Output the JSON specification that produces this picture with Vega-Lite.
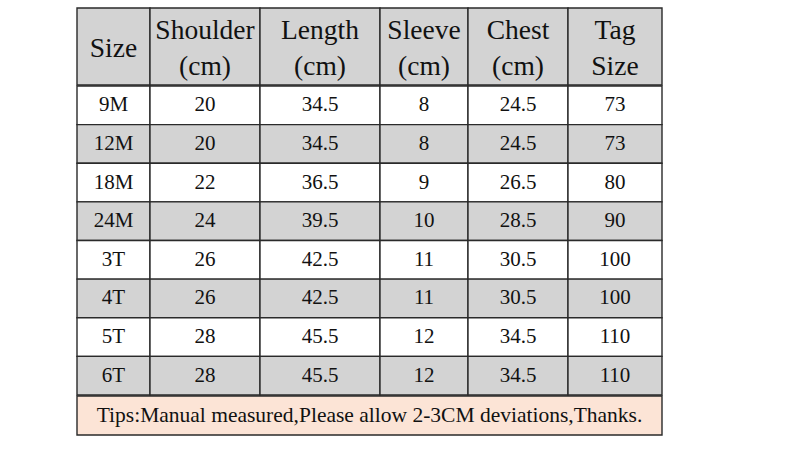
{
  "$schema": "https://vega.github.io/schema/vega-lite/v6.json",
  "padding": {"left": 76, "top": 7, "right": 0, "bottom": 0},
  "background": "#ffffff",
  "spacing": -1.4,
  "config": {"view": {"stroke": null}},
  "datasets": {
    "headers": [
      {"column": "size", "label": "Size"},
      {"column": "shoulder", "label": "Shoulder\n(cm)"},
      {"column": "length", "label": "Length\n(cm)"},
      {"column": "sleeve", "label": "Sleeve\n(cm)"},
      {"column": "chest", "label": "Chest\n(cm)"},
      {"column": "tag", "label": "Tag\nSize"}
    ],
    "sizes": [
      {"size": "9M", "shoulder": 20, "length": 34.5, "sleeve": 8, "chest": 24.5, "tag": 73},
      {"size": "12M", "shoulder": 20, "length": 34.5, "sleeve": 8, "chest": 24.5, "tag": 73},
      {"size": "18M", "shoulder": 22, "length": 36.5, "sleeve": 9, "chest": 26.5, "tag": 80},
      {"size": "24M", "shoulder": 24, "length": 39.5, "sleeve": 10, "chest": 28.5, "tag": 90},
      {"size": "3T", "shoulder": 26, "length": 42.5, "sleeve": 11, "chest": 30.5, "tag": 100},
      {"size": "4T", "shoulder": 26, "length": 42.5, "sleeve": 11, "chest": 30.5, "tag": 100},
      {"size": "5T", "shoulder": 28, "length": 45.5, "sleeve": 12, "chest": 34.5, "tag": 110},
      {"size": "6T", "shoulder": 28, "length": 45.5, "sleeve": 12, "chest": 34.5, "tag": 110}
    ],
    "tips": [
      {"note": "Tips:Manual measured,Please allow 2-3CM deviations,Thanks."}
    ]
  },
  "vconcat": [
    {
      "spacing": 0,
      "bounds": "flush",
      "hconcat": [
        {"width": 73, "height": 77, "data": {"name": "headers"}, "transform": [{"filter": "datum.column === 'size'"}],
         "layer": [
           {"mark": {"type": "rect", "fill": "#d3d3d3", "stroke": "#2a2a2a", "strokeWidth": 1.4}, "encoding": {"x": {"value": 0}, "x2": {"value": "width"}, "y": {"value": 0}, "y2": {"value": "height"}}},
           {"mark": {"type": "text", "font": "Liberation Serif", "fontSize": 27.5, "color": "#111111", "lineBreak": "\n", "lineHeight": 36, "dy": 2}, "encoding": {"text": {"field": "label"}}}
         ]},
        {"width": 110, "height": 77, "data": {"name": "headers"}, "transform": [{"filter": "datum.column === 'shoulder'"}],
         "layer": [
           {"mark": {"type": "rect", "fill": "#d3d3d3", "stroke": "#2a2a2a", "strokeWidth": 1.4}, "encoding": {"x": {"value": 0}, "x2": {"value": "width"}, "y": {"value": 0}, "y2": {"value": "height"}}},
           {"mark": {"type": "text", "font": "Liberation Serif", "fontSize": 27.5, "color": "#111111", "lineBreak": "\n", "lineHeight": 36, "dy": -16}, "encoding": {"text": {"field": "label"}}}
         ]},
        {"width": 120, "height": 77, "data": {"name": "headers"}, "transform": [{"filter": "datum.column === 'length'"}],
         "layer": [
           {"mark": {"type": "rect", "fill": "#d3d3d3", "stroke": "#2a2a2a", "strokeWidth": 1.4}, "encoding": {"x": {"value": 0}, "x2": {"value": "width"}, "y": {"value": 0}, "y2": {"value": "height"}}},
           {"mark": {"type": "text", "font": "Liberation Serif", "fontSize": 27.5, "color": "#111111", "lineBreak": "\n", "lineHeight": 36, "dy": -16}, "encoding": {"text": {"field": "label"}}}
         ]},
        {"width": 88, "height": 77, "data": {"name": "headers"}, "transform": [{"filter": "datum.column === 'sleeve'"}],
         "layer": [
           {"mark": {"type": "rect", "fill": "#d3d3d3", "stroke": "#2a2a2a", "strokeWidth": 1.4}, "encoding": {"x": {"value": 0}, "x2": {"value": "width"}, "y": {"value": 0}, "y2": {"value": "height"}}},
           {"mark": {"type": "text", "font": "Liberation Serif", "fontSize": 27.5, "color": "#111111", "lineBreak": "\n", "lineHeight": 36, "dy": -16}, "encoding": {"text": {"field": "label"}}}
         ]},
        {"width": 100, "height": 77, "data": {"name": "headers"}, "transform": [{"filter": "datum.column === 'chest'"}],
         "layer": [
           {"mark": {"type": "rect", "fill": "#d3d3d3", "stroke": "#2a2a2a", "strokeWidth": 1.4}, "encoding": {"x": {"value": 0}, "x2": {"value": "width"}, "y": {"value": 0}, "y2": {"value": "height"}}},
           {"mark": {"type": "text", "font": "Liberation Serif", "fontSize": 27.5, "color": "#111111", "lineBreak": "\n", "lineHeight": 36, "dy": -16}, "encoding": {"text": {"field": "label"}}}
         ]},
        {"width": 94, "height": 77, "data": {"name": "headers"}, "transform": [{"filter": "datum.column === 'tag'"}],
         "layer": [
           {"mark": {"type": "rect", "fill": "#d3d3d3", "stroke": "#2a2a2a", "strokeWidth": 1.4}, "encoding": {"x": {"value": 0}, "x2": {"value": "width"}, "y": {"value": 0}, "y2": {"value": "height"}}},
           {"mark": {"type": "text", "font": "Liberation Serif", "fontSize": 27.5, "color": "#111111", "lineBreak": "\n", "lineHeight": 36, "dy": -16}, "encoding": {"text": {"field": "label"}}}
         ]}
      ]
    },
    {
      "spacing": 0,
      "bounds": "flush",
      "hconcat": [
        {"width": 73, "height": 309, "data": {"name": "sizes"},
         "layer": [
           {"mark": {"type": "rect", "stroke": "#2a2a2a", "strokeWidth": 1.4},
            "encoding": {"y": {"field": "size", "type": "ordinal", "sort": null, "scale": {"domain": ["9M","12M","18M","24M","3T","4T","5T","6T"], "paddingInner": 0, "paddingOuter": 0}, "axis": null},
              "x": {"value": 0}, "x2": {"value": "width"},
              "fill": {"field": "size", "type": "nominal", "scale": {"domain": ["9M","12M","18M","24M","3T","4T","5T","6T"], "range": ["#ffffff","#d3d3d3","#ffffff","#d3d3d3","#ffffff","#d3d3d3","#ffffff","#d3d3d3"]}, "legend": null}}},
           {"mark": {"type": "text", "font": "Liberation Serif", "fontSize": 21, "color": "#111111"},
            "encoding": {"y": {"field": "size", "type": "ordinal", "sort": null, "scale": {"domain": ["9M","12M","18M","24M","3T","4T","5T","6T"], "paddingInner": 0, "paddingOuter": 0}, "axis": null}, "text": {"field": "size"}}}
         ]},
        {"width": 110, "height": 309, "data": {"name": "sizes"},
         "layer": [
           {"mark": {"type": "rect", "stroke": "#2a2a2a", "strokeWidth": 1.4},
            "encoding": {"y": {"field": "size", "type": "ordinal", "sort": null, "scale": {"domain": ["9M","12M","18M","24M","3T","4T","5T","6T"], "paddingInner": 0, "paddingOuter": 0}, "axis": null},
              "x": {"value": 0}, "x2": {"value": "width"},
              "fill": {"field": "size", "type": "nominal", "scale": {"domain": ["9M","12M","18M","24M","3T","4T","5T","6T"], "range": ["#ffffff","#d3d3d3","#ffffff","#d3d3d3","#ffffff","#d3d3d3","#ffffff","#d3d3d3"]}, "legend": null}}},
           {"mark": {"type": "text", "font": "Liberation Serif", "fontSize": 21, "color": "#111111"},
            "encoding": {"y": {"field": "size", "type": "ordinal", "sort": null, "scale": {"domain": ["9M","12M","18M","24M","3T","4T","5T","6T"], "paddingInner": 0, "paddingOuter": 0}, "axis": null}, "text": {"field": "shoulder"}}}
         ]},
        {"width": 120, "height": 309, "data": {"name": "sizes"},
         "layer": [
           {"mark": {"type": "rect", "stroke": "#2a2a2a", "strokeWidth": 1.4},
            "encoding": {"y": {"field": "size", "type": "ordinal", "sort": null, "scale": {"domain": ["9M","12M","18M","24M","3T","4T","5T","6T"], "paddingInner": 0, "paddingOuter": 0}, "axis": null},
              "x": {"value": 0}, "x2": {"value": "width"},
              "fill": {"field": "size", "type": "nominal", "scale": {"domain": ["9M","12M","18M","24M","3T","4T","5T","6T"], "range": ["#ffffff","#d3d3d3","#ffffff","#d3d3d3","#ffffff","#d3d3d3","#ffffff","#d3d3d3"]}, "legend": null}}},
           {"mark": {"type": "text", "font": "Liberation Serif", "fontSize": 21, "color": "#111111"},
            "encoding": {"y": {"field": "size", "type": "ordinal", "sort": null, "scale": {"domain": ["9M","12M","18M","24M","3T","4T","5T","6T"], "paddingInner": 0, "paddingOuter": 0}, "axis": null}, "text": {"field": "length"}}}
         ]},
        {"width": 88, "height": 309, "data": {"name": "sizes"},
         "layer": [
           {"mark": {"type": "rect", "stroke": "#2a2a2a", "strokeWidth": 1.4},
            "encoding": {"y": {"field": "size", "type": "ordinal", "sort": null, "scale": {"domain": ["9M","12M","18M","24M","3T","4T","5T","6T"], "paddingInner": 0, "paddingOuter": 0}, "axis": null},
              "x": {"value": 0}, "x2": {"value": "width"},
              "fill": {"field": "size", "type": "nominal", "scale": {"domain": ["9M","12M","18M","24M","3T","4T","5T","6T"], "range": ["#ffffff","#d3d3d3","#ffffff","#d3d3d3","#ffffff","#d3d3d3","#ffffff","#d3d3d3"]}, "legend": null}}},
           {"mark": {"type": "text", "font": "Liberation Serif", "fontSize": 21, "color": "#111111"},
            "encoding": {"y": {"field": "size", "type": "ordinal", "sort": null, "scale": {"domain": ["9M","12M","18M","24M","3T","4T","5T","6T"], "paddingInner": 0, "paddingOuter": 0}, "axis": null}, "text": {"field": "sleeve"}}}
         ]},
        {"width": 100, "height": 309, "data": {"name": "sizes"},
         "layer": [
           {"mark": {"type": "rect", "stroke": "#2a2a2a", "strokeWidth": 1.4},
            "encoding": {"y": {"field": "size", "type": "ordinal", "sort": null, "scale": {"domain": ["9M","12M","18M","24M","3T","4T","5T","6T"], "paddingInner": 0, "paddingOuter": 0}, "axis": null},
              "x": {"value": 0}, "x2": {"value": "width"},
              "fill": {"field": "size", "type": "nominal", "scale": {"domain": ["9M","12M","18M","24M","3T","4T","5T","6T"], "range": ["#ffffff","#d3d3d3","#ffffff","#d3d3d3","#ffffff","#d3d3d3","#ffffff","#d3d3d3"]}, "legend": null}}},
           {"mark": {"type": "text", "font": "Liberation Serif", "fontSize": 21, "color": "#111111"},
            "encoding": {"y": {"field": "size", "type": "ordinal", "sort": null, "scale": {"domain": ["9M","12M","18M","24M","3T","4T","5T","6T"], "paddingInner": 0, "paddingOuter": 0}, "axis": null}, "text": {"field": "chest"}}}
         ]},
        {"width": 94, "height": 309, "data": {"name": "sizes"},
         "layer": [
           {"mark": {"type": "rect", "stroke": "#2a2a2a", "strokeWidth": 1.4},
            "encoding": {"y": {"field": "size", "type": "ordinal", "sort": null, "scale": {"domain": ["9M","12M","18M","24M","3T","4T","5T","6T"], "paddingInner": 0, "paddingOuter": 0}, "axis": null},
              "x": {"value": 0}, "x2": {"value": "width"},
              "fill": {"field": "size", "type": "nominal", "scale": {"domain": ["9M","12M","18M","24M","3T","4T","5T","6T"], "range": ["#ffffff","#d3d3d3","#ffffff","#d3d3d3","#ffffff","#d3d3d3","#ffffff","#d3d3d3"]}, "legend": null}}},
           {"mark": {"type": "text", "font": "Liberation Serif", "fontSize": 21, "color": "#111111"},
            "encoding": {"y": {"field": "size", "type": "ordinal", "sort": null, "scale": {"domain": ["9M","12M","18M","24M","3T","4T","5T","6T"], "paddingInner": 0, "paddingOuter": 0}, "axis": null}, "text": {"field": "tag"}}}
         ]}
      ]
    },
    {"width": 585, "height": 39, "data": {"name": "tips"},
     "layer": [
       {"mark": {"type": "rect", "fill": "#fce4d6", "stroke": "#2a2a2a", "strokeWidth": 1.4}, "encoding": {"x": {"value": 0}, "x2": {"value": "width"}, "y": {"value": 0}, "y2": {"value": "height"}}},
       {"mark": {"type": "text", "font": "Liberation Serif", "fontSize": 21.5, "color": "#111111"}, "encoding": {"text": {"field": "note"}}}
     ]}
  ]
}
